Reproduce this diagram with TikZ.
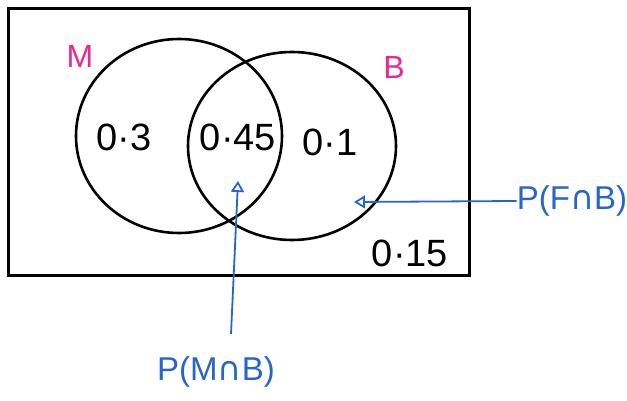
\documentclass[tikz,border=0pt]{standalone}
\usepackage{fontspec}
\setmainfont{Liberation Sans}
\newfontfamily\capfont{DejaVu Sans}
\newcommand{\capsym}{{\capfont ∩}}
\usetikzlibrary{arrows.meta}
\definecolor{pinkM}{RGB}{232,40,150}
\definecolor{penblue}{RGB}{40,100,205}
\tikzset{
  frame/.style={draw=black, line width=3pt},
  setline/.style={draw=black, line width=2.6pt},
  num/.style={font=\fontsize{38}{40}\selectfont, inner sep=0pt},
  setname/.style={font=\fontsize{32}{34}\selectfont, text=pinkM, inner sep=0pt},
  lbl/.style={font=\fontsize{33}{36}\selectfont, text=penblue, inner sep=0pt},
  pointer/.style={draw=penblue, line width=1.8pt, -{Triangle[open, length=11pt, width=13pt, line width=1.8pt]}}
}
\begin{document}
\begin{tikzpicture}[x=1pt,y=-1pt]
\useasboundingbox (0,0) rectangle (627,401);
\draw[frame] (8,9) rectangle (469,275);
\draw[setline] (179,136) ellipse [x radius=103, y radius=97];
\draw[setline] (292,146) ellipse [x radius=104, y radius=94];
\node[setname] (M) at (80,56) {M};
\node[setname] (B) at (394,67) {B};
\node[num] (m) at (124,137) {0·3};
\node[num] (mb) at (238,137) {0·45};
\node[num] (b) at (330,142) {0·1};
\node[num] (o) at (410,253) {0·15};
\node[lbl] (pmb) at (216,372) {P(M\capsym B)};
\node[lbl] (pfb) at (572,201) {P(F\capsym B)};
\coordinate (tipmb) at (238,181);
\coordinate (tipfb) at (354,202);
\draw[pointer] (231,334) -- (tipmb);
\draw[pointer] (pfb.west) -- (tipfb);
\end{tikzpicture}
\end{document}
